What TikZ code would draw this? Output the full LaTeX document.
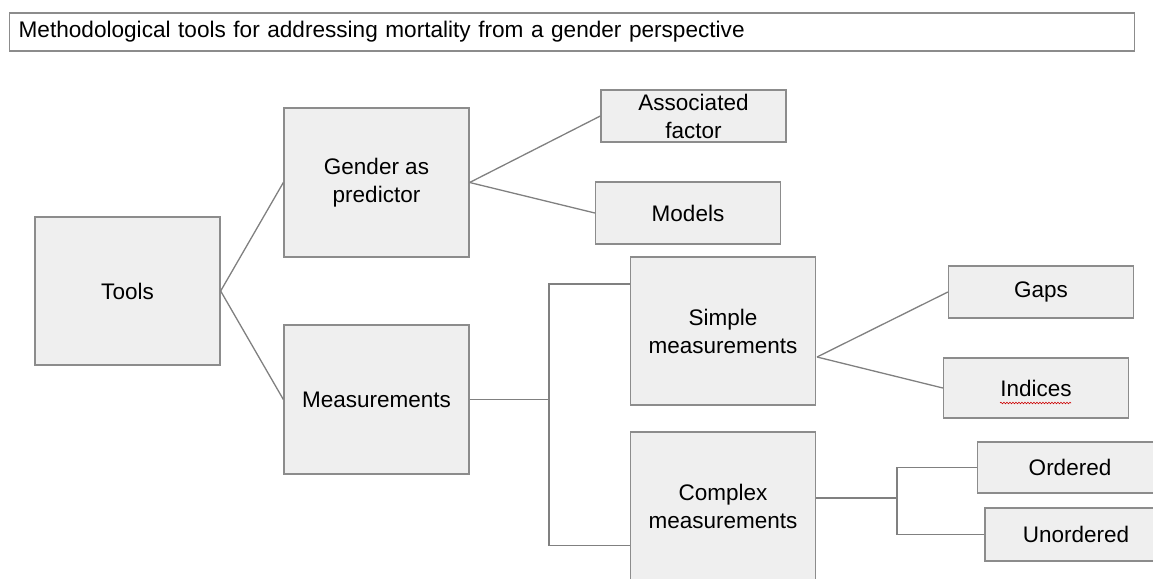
\documentclass[tikz,border=0pt]{standalone}
\usepackage{fontspec}
\setmainfont{Liberation Sans}
\usepackage{tikz}
\usetikzlibrary{decorations.pathmorphing}
\definecolor{boxfill}{RGB}{239, 239, 239}
\definecolor{boxline}{RGB}{140, 140, 140}
\definecolor{linkgray}{RGB}{128, 128, 128}
\tikzset{
	box/.style={draw=boxline, fill=boxfill, line width=1.3pt, align=center, inner sep=0pt,
		font=\fontsize{22.5}{28}\selectfont},
	tallbox/.style={box, minimum width=185pt, minimum height=148pt},
	flatbox/.style={box, minimum width=185pt, minimum height=52pt},
	titlebox/.style={draw=boxline, fill=white, line width=1.3pt, anchor=west, align=left,
		text width=1107pt, inner xsep=9pt, minimum height=38pt, font=\fontsize{22.6}{26}\selectfont},
	link/.style={draw=linkgray, line width=1.3pt},
}

\begin{document}
\begin{tikzpicture}[x=1pt, y=-1pt]
			\useasboundingbox (0,0) rectangle (1153,578);
			\clip (0,0) rectangle (1153,578);

			\node[titlebox] (title) at (9,32) {Methodological tools for addressing mortality from a gender perspective};

			\node[tallbox] (tools) at (127.5,291) {Tools};
			\node[tallbox, minimum height=149pt] (gender) at (376.5,182.5) {Gender as\\predictor};
			\node[tallbox, minimum height=149pt] (meas) at (376.5,399.5) {Measurements};
			\node[flatbox] (assoc) at (693.5,116) {Associated\\factor};
			\node[flatbox, minimum height=62pt] (models) at (688,213) {Models};
			\node[tallbox] (simple) at (723,331) {Simple\\measurements};
			\node[tallbox] (complex) at (723,506) {Complex\\measurements};
			\node[flatbox] (gaps) at (1041,292) {Gaps};
			\node[flatbox, minimum height=60pt] (indices) at (1036,388) {Indices};
			\node[flatbox, minimum height=51pt] (ordered) at (1070,467.5) {Ordered};
			\node[flatbox, minimum width=182pt, minimum height=53pt] (unordered) at (1076,534.5) {Unordered};

			% junction points of the elbow lines
			\coordinate (mtop) at (549,284);
			\coordinate (mbot) at (549,545.5);
			\coordinate (sfan) at (817,357);
			\coordinate (cmid) at (897,498);

			\draw[link] (tools.east) -- (gender.west);
			\draw[link] (tools.east) -- (meas.west);
			\draw[link] (gender.east) -- (assoc.west);
			\draw[link] (gender.east) -- (models.west);
			\draw[link] (meas.east) -- (meas.east -| mtop);
			\draw[link] (simple.west |- mtop) -- (mtop) -- (mbot) -- (complex.west |- mbot);
			\draw[link] (sfan) -- (gaps.west);
			\draw[link] (sfan) -- (indices.west);
			\draw[link] (complex.east |- cmid) -- (cmid);
			\draw[link] (ordered.west) -- (ordered.west -| cmid) -- (unordered.west -| cmid) -- (unordered.west);

			\draw[red!80!black, line width=0.6pt, decorate, decoration={snake, amplitude=0.8pt, segment length=3pt}]
				(indices.center) ++(-36,15) -- ++(71,0); % spelling mark
		 \end{tikzpicture}
\end{document}
